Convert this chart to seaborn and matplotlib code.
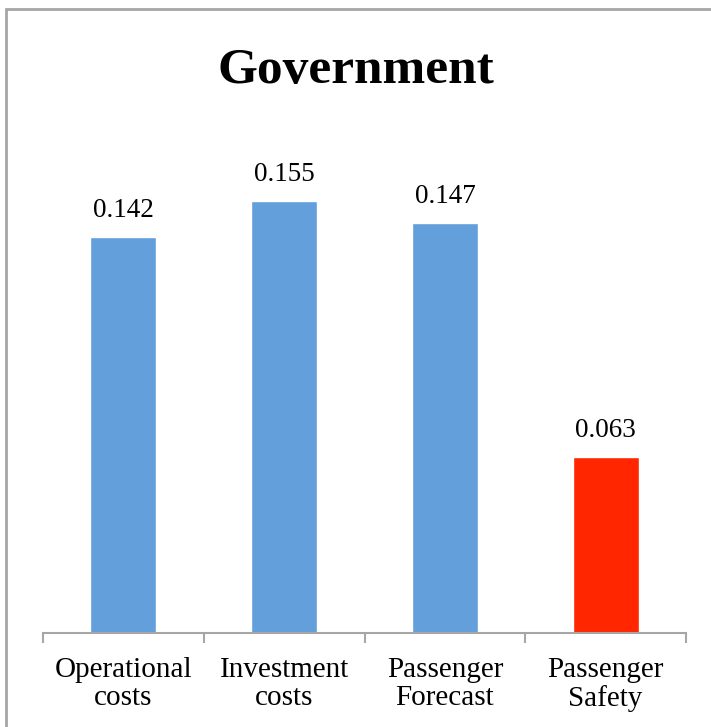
import matplotlib
matplotlib.use("Agg")
import matplotlib.pyplot as plt
from matplotlib.patches import Rectangle
from matplotlib.ticker import FixedLocator
import seaborn as sns

categories = ["Operational\ncosts", "Investment\ncosts", "Passenger\nForecast", "Passenger\nSafety"]
values = [0.142, 0.155, 0.147, 0.063]
bar_colors = ["#629FDB", "#629FDB", "#629FDB", "#FF2600"]
title = "Government"

sns.set_theme(style="white")
plt.rcParams["font.family"] = ["Liberation Serif", "DejaVu Serif"]

fig = plt.figure(figsize=(7.11, 7.27), dpi=100)
ax = fig.add_axes([43 / 711, 1 - 633 / 727, (686 - 43) / 711, (633 - 131) / 727])

sns.barplot(x=categories, y=values, hue=categories, palette=bar_colors,
            legend=False, width=0.41, saturation=1, ax=ax)

ax.set_ylim(0, 0.18)
ax.set_xlim(-0.5, len(categories) - 0.5)

for i, v in enumerate(values):
    ax.annotate(f"{v:.3f}", xy=(i, v), xytext=(0, 10), textcoords="offset points",
                ha="center", va="bottom", fontsize=19.5, color="black")

for side in ("left", "right", "top"):
    ax.spines[side].set_visible(False)
ax.spines["bottom"].set_color("#A6A6A6")
ax.spines["bottom"].set_linewidth(1.5)
ax.set_yticks([])
ax.set_ylabel("")
ax.set_xlabel("")

ax.xaxis.set_minor_locator(FixedLocator([i - 0.5 for i in range(len(categories) + 1)]))
ax.tick_params(axis="x", which="major", length=0, pad=17, labelsize=21, labelcolor="black")
for lbl in ax.get_xticklabels():
    lbl.set_linespacing(1.12)
ax.tick_params(axis="x", which="minor", bottom=True, length=7, width=1.5, color="#A6A6A6", direction="out")

fig.text(0.5, 1 - 83 / 727, title, ha="center", va="baseline", fontsize=37,
         fontweight="bold", color="black")

fig.patches.append(Rectangle((6 / 711, -0.1), 1.2, 1.1 - 9 / 727,
                             transform=fig.transFigure, fill=False,
                             edgecolor="#A6A6A6", linewidth=2, clip_on=False))

fig.savefig("out.png", dpi=100, facecolor="white")
